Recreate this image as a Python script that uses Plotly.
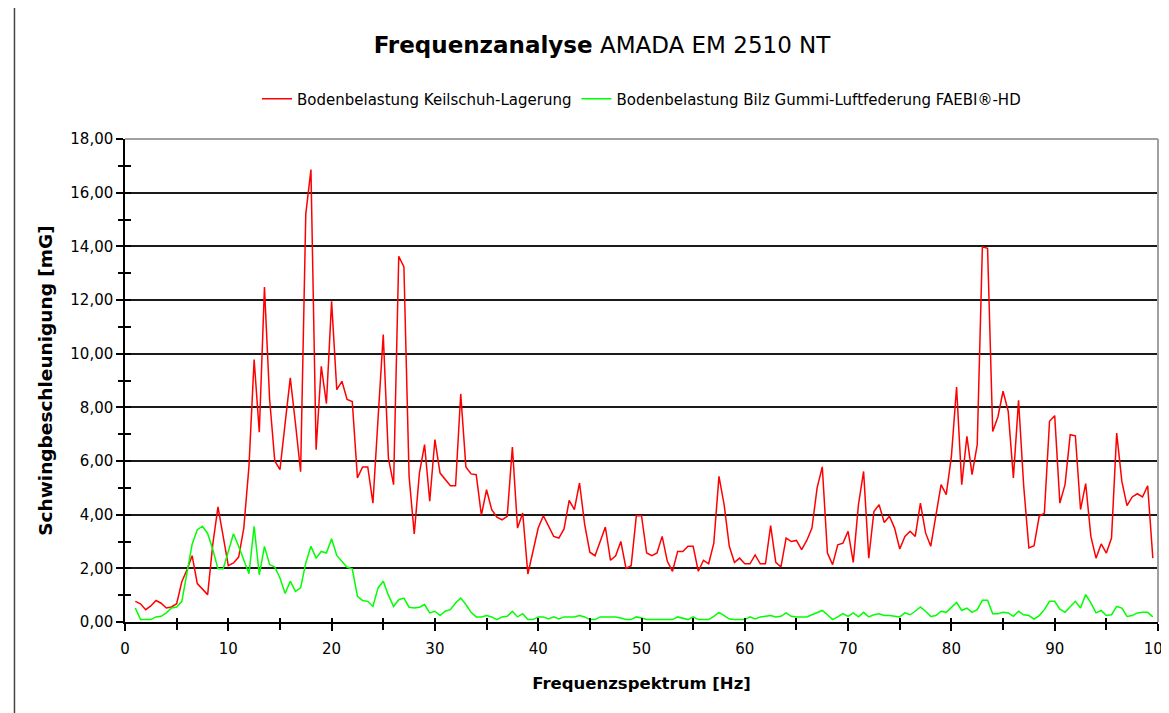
import plotly.graph_objects as go

# Frequency bins [Hz]
freq_hz = [
    1.0, 1.5, 2.0, 2.5, 3.0, 3.5, 4.0, 4.5, 5.0, 5.5, 6.0, 6.5, 7.0, 7.5, 8.0, 8.5, 9.0, 9.5,
    10.0, 10.5, 11.0, 11.5, 12.0, 12.5, 13.0, 13.5, 14.0, 14.5, 15.0, 15.5, 16.0, 16.5, 17.0, 17.5, 18.0, 18.5, 19.0, 19.5,
    20.0, 20.5, 21.0, 21.5, 22.0, 22.5, 23.0, 23.5, 24.0, 24.5, 25.0, 25.5, 26.0, 26.5, 27.0, 27.5, 28.0, 28.5, 29.0, 29.5,
    30.0, 30.5, 31.0, 31.5, 32.0, 32.5, 33.0, 33.5, 34.0, 34.5, 35.0, 35.5, 36.0, 36.5, 37.0, 37.5, 38.0, 38.5, 39.0, 39.5,
    40.0, 40.5, 41.0, 41.5, 42.0, 42.5, 43.0, 43.5, 44.0, 44.5, 45.0, 45.5, 46.0, 46.5, 47.0, 47.5, 48.0, 48.5, 49.0, 49.5,
    50.0, 50.5, 51.0, 51.5, 52.0, 52.5, 53.0, 53.5, 54.0, 54.5, 55.0, 55.5, 56.0, 56.5, 57.0, 57.5, 58.0, 58.5, 59.0, 59.5,
    60.0, 60.5, 61.0, 61.5, 62.0, 62.5, 63.0, 63.5, 64.0, 64.5, 65.0, 65.5, 66.0, 66.5, 67.0, 67.5, 68.0, 68.5, 69.0, 69.5,
    70.0, 70.5, 71.0, 71.5, 72.0, 72.5, 73.0, 73.5, 74.0, 74.5, 75.0, 75.5, 76.0, 76.5, 77.0, 77.5, 78.0, 78.5, 79.0, 79.5,
    80.0, 80.5, 81.0, 81.5, 82.0, 82.5, 83.0, 83.5, 84.0, 84.5, 85.0, 85.5, 86.0, 86.5, 87.0, 87.5, 88.0, 88.5, 89.0, 89.5,
    90.0, 90.5, 91.0, 91.5, 92.0, 92.5, 93.0, 93.5, 94.0, 94.5, 95.0, 95.5, 96.0, 96.5, 97.0, 97.5, 98.0, 98.5, 99.0, 99.5,
]

# Bodenbelastung Keilschuh-Lagerung [mG]
keilschuh_01_09 = [0.77, 0.68, 0.46, 0.6, 0.8, 0.7, 0.52, 0.56, 0.68, 1.5, 1.95, 2.47, 1.43, 1.23, 1.02, 2.9, 4.29, 3.2]
keilschuh_10_19 = [2.1, 2.2, 2.42, 3.5, 5.8, 9.78, 7.07, 12.48, 8.3, 6.0, 5.68, 7.4, 9.1, 7.4, 5.6, 15.2, 16.86, 6.42, 9.53, 8.14]
keilschuh_20_29 = [11.95, 8.66, 8.97, 8.29, 8.22, 5.37, 5.78, 5.78, 4.43, 7.6, 10.71, 6.11, 5.12, 13.63, 13.23, 5.43, 3.28, 5.55, 6.61, 4.5]
keilschuh_30_39 = [6.8, 5.55, 5.3, 5.08, 5.08, 8.5, 5.78, 5.52, 5.49, 3.98, 4.93, 4.19, 3.91, 3.81, 3.94, 6.52, 3.5, 4.06, 1.79, 2.7]
keilschuh_40_49 = [3.5, 3.96, 3.57, 3.19, 3.13, 3.47, 4.53, 4.19, 5.18, 3.63, 2.6, 2.47, 3.0, 3.54, 2.3, 2.47, 3.0, 2.0, 2.1, 3.96]
keilschuh_50_59 = [3.96, 2.57, 2.47, 2.57, 3.19, 2.26, 1.89, 2.63, 2.63, 2.82, 2.82, 1.89, 2.3, 2.17, 2.94, 5.43, 4.37, 2.82, 2.22, 2.38]
keilschuh_60_69 = [2.17, 2.17, 2.5, 2.17, 2.17, 3.59, 2.22, 2.05, 3.13, 3.0, 3.04, 2.7, 3.04, 3.5, 5.0, 5.78, 2.57, 2.14, 2.88, 2.94]
keilschuh_70_79 = [3.38, 2.22, 4.37, 5.61, 2.38, 4.12, 4.37, 3.71, 3.94, 3.5, 2.72, 3.19, 3.38, 3.19, 4.43, 3.32, 2.82, 3.94, 5.12, 4.75]
keilschuh_80_89 = [6.17, 8.76, 5.12, 6.92, 5.49, 6.61, 13.98, 13.93, 7.1, 7.64, 8.6, 7.85, 5.37, 8.26, 5.06, 2.76, 2.84, 3.94, 4.06, 7.48]
keilschuh_90_99 = [7.69, 4.43, 5.12, 6.98, 6.94, 4.19, 5.16, 3.19, 2.38, 2.91, 2.57, 3.13, 7.04, 5.24, 4.34, 4.66, 4.78, 4.66, 5.08, 2.38]

# Bodenbelastung Bilz Gummi-Luftfederung FAEBI®-HD [mG]
bilz_01_09 = [0.52, 0.09, 0.09, 0.09, 0.19, 0.21, 0.34, 0.52, 0.56, 0.77, 1.83, 2.9, 3.44, 3.57, 3.3, 2.7, 1.98, 1.98]
bilz_10_19 = [2.63, 3.29, 2.82, 2.32, 1.8, 3.57, 1.76, 2.82, 2.14, 2.05, 1.64, 1.06, 1.52, 1.14, 1.27, 2.2, 2.82, 2.38, 2.63, 2.57]
bilz_20_29 = [3.1, 2.48, 2.26, 2.04, 1.98, 0.96, 0.8, 0.77, 0.58, 1.27, 1.52, 1.0, 0.58, 0.83, 0.89, 0.55, 0.52, 0.55, 0.65, 0.34]
bilz_30_39 = [0.4, 0.24, 0.4, 0.46, 0.71, 0.89, 0.65, 0.36, 0.19, 0.19, 0.24, 0.19, 0.09, 0.19, 0.21, 0.4, 0.19, 0.31, 0.09, 0.09]
bilz_40_49 = [0.19, 0.19, 0.11, 0.19, 0.11, 0.19, 0.19, 0.19, 0.24, 0.19, 0.09, 0.09, 0.19, 0.19, 0.19, 0.19, 0.15, 0.09, 0.09, 0.19]
bilz_50_59 = [0.15, 0.09, 0.09, 0.09, 0.09, 0.09, 0.09, 0.19, 0.15, 0.09, 0.19, 0.09, 0.09, 0.09, 0.21, 0.36, 0.24, 0.11, 0.09, 0.09]
bilz_60_69 = [0.09, 0.19, 0.11, 0.19, 0.21, 0.24, 0.19, 0.21, 0.34, 0.21, 0.19, 0.19, 0.19, 0.27, 0.36, 0.43, 0.27, 0.09, 0.19, 0.31]
bilz_70_79 = [0.21, 0.34, 0.19, 0.36, 0.19, 0.27, 0.31, 0.24, 0.24, 0.21, 0.19, 0.34, 0.27, 0.4, 0.56, 0.4, 0.21, 0.24, 0.4, 0.36]
bilz_80_89 = [0.56, 0.73, 0.43, 0.52, 0.36, 0.46, 0.81, 0.81, 0.31, 0.31, 0.36, 0.34, 0.21, 0.4, 0.27, 0.24, 0.11, 0.24, 0.46, 0.77]
bilz_90_99 = [0.77, 0.48, 0.36, 0.56, 0.77, 0.52, 1.02, 0.71, 0.34, 0.43, 0.24, 0.27, 0.58, 0.52, 0.21, 0.24, 0.34, 0.36, 0.36, 0.19]

keilschuh = (keilschuh_01_09 + keilschuh_10_19 + keilschuh_20_29 + keilschuh_30_39 + keilschuh_40_49
             + keilschuh_50_59 + keilschuh_60_69 + keilschuh_70_79 + keilschuh_80_89 + keilschuh_90_99)
bilz = (bilz_01_09 + bilz_10_19 + bilz_20_29 + bilz_30_39 + bilz_40_49
        + bilz_50_59 + bilz_60_69 + bilz_70_79 + bilz_80_89 + bilz_90_99)

series_names = ["Bodenbelastung Keilschuh-Lagerung", "Bodenbelastung Bilz Gummi-Luftfederung FAEBI®-HD"]
chart_title = "<b>Frequenzanalyse</b> AMADA EM 2510 NT"
x_title = "<b>Frequenzspektrum [Hz]</b>"
y_title = "<b>Schwingbeschleunigung [mG]</b>"

FONT = "DejaVu Sans"
W, H = 1161, 705  # page body adds an 8px margin

fig = go.Figure()
fig.add_trace(go.Scatter(x=freq_hz, y=keilschuh, mode="lines", name=series_names[0],
                         line=dict(color="#FF0000", width=1.5)))
fig.add_trace(go.Scatter(x=freq_hz, y=bilz, mode="lines", name=series_names[1],
                         line=dict(color="#00FF00", width=1.5)))
# helper trace so the overlay axes (inner tick marks) are drawn
fig.add_trace(go.Scatter(x=[], y=[], xaxis="x2", yaxis="y2", showlegend=False, hoverinfo="skip"))

fig.update_layout(
    width=W, height=H,
    margin=dict(l=117, r=11, t=131, b=91, pad=0),
    paper_bgcolor="white", plot_bgcolor="white",
    separators=",.",
    font=dict(family=FONT, color="black", size=15),
    title=dict(text=chart_title, x=594 / W, xanchor="center", y=1 - 37 / H, yanchor="middle",
               font=dict(family=FONT, size=23, color="black")),
    showlegend=True,
    legend=dict(orientation="h", x=0.5, xanchor="center", y=1.083, yanchor="middle",
                font=dict(family=FONT, size=15, color="black"), bgcolor="rgba(0,0,0,0)"),
    xaxis=dict(range=[0, 100], tick0=0, dtick=10, ticks="outside", ticklen=7, tickwidth=1.5,
               tickcolor="black", showline=True, linecolor="black", linewidth=1.5,
               showgrid=False, zeroline=False, tickfont=dict(size=15), ticklabelstandoff=5,
               ticklabeloverflow="allow", automargin=False,
               minor=dict(dtick=5, ticks="outside", ticklen=6, tickwidth=1.5, tickcolor="black", showgrid=False),
               title=dict(text=x_title, font=dict(size=16.5), standoff=21)),
    yaxis=dict(range=[0, 18], tick0=0, dtick=2, tickformat=".2f", ticks="outside", ticklen=7,
               tickwidth=1.5, tickcolor="black", showline=True, linecolor="black", linewidth=1.5,
               showgrid=True, gridcolor="#1a1a1a", gridwidth=1.5, zeroline=False,
               tickfont=dict(size=15), automargin=False,
               minor=dict(dtick=1, ticks="outside", ticklen=5, tickwidth=1.5, tickcolor="black", showgrid=False),
               title=dict(text=y_title, font=dict(size=18.5), standoff=13)),
    xaxis2=dict(overlaying="x", anchor="y", side="bottom", range=[0, 100], tick0=0, dtick=5,
                ticks="inside", ticklen=4, tickwidth=1.5, tickcolor="black", showticklabels=False,
                showgrid=False, zeroline=False, showline=False, automargin=False),
    yaxis2=dict(overlaying="y", anchor="x", side="left", range=[0, 18], tick0=0, dtick=1,
                ticks="inside", ticklen=6, tickwidth=1.5, tickcolor="black", showticklabels=False,
                showgrid=False, zeroline=False, showline=False, automargin=False),
    shapes=[
        # plot area top and right border (grey)
        dict(type="line", xref="paper", yref="paper", x0=0, x1=1, y0=1, y1=1,
             line=dict(color="#a0a0a0", width=2), layer="above"),
        dict(type="line", xref="paper", yref="paper", x0=1, x1=1, y0=0, y1=1,
             line=dict(color="#a0a0a0", width=2), layer="above"),
        # outer chart frame
        dict(type="rect", xref="paper", yref="paper", x0=-0.107, x1=1.3, y0=-0.4, y1=1.274,
             line=dict(color="#444444", width=1.5), layer="above"),
    ],
)

fig.write_html("out.html")
